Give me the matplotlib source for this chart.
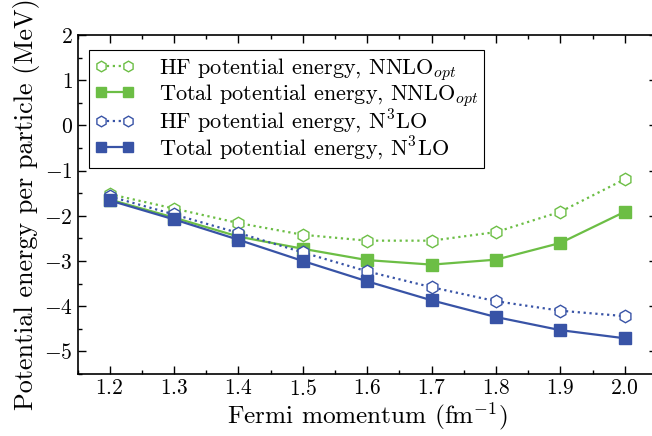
import numpy as np
import matplotlib
matplotlib.use("Agg")
import matplotlib.pyplot as plt
from matplotlib.ticker import MultipleLocator

plt.rcParams['font.family'] = 'serif'
plt.rcParams['font.serif'] = ['cmr10']
plt.rcParams['mathtext.fontset'] = 'cm'
plt.rcParams['axes.formatter.use_mathtext'] = True

# data
kf = [1.2, 1.3, 1.4, 1.5, 1.6, 1.7, 1.8, 1.9, 2.0]
hf_nnlo = [-1.52, -1.84, -2.16, -2.42, -2.55, -2.55, -2.36, -1.91, -1.19]
tot_nnlo = [-1.64, -2.04, -2.46, -2.73, -2.98, -3.08, -2.97, -2.60, -1.91]
hf_n3lo = [-1.57, -1.97, -2.38, -2.81, -3.23, -3.58, -3.89, -4.10, -4.22]
tot_n3lo = [-1.66, -2.08, -2.53, -3.00, -3.45, -3.87, -4.24, -4.53, -4.71]

green = '#6cbe45'
blue = '#3853a6'

fig = plt.figure(figsize=(6.52, 4.36), dpi=100)
ax = fig.add_axes([0.1189, 0.1422, 0.8888, 0.7775])

ax.plot(kf, hf_nnlo, ':', color=green, marker='h', mfc='white', mec=green,
        ms=9, mew=1.0, lw=1.6, label=r'HF potential energy, NNLO$_{opt}$')
ax.plot(kf, tot_nnlo, '-', color=green, marker='s', ms=9, lw=1.6,
        label=r'Total potential energy, NNLO$_{opt}$')
ax.plot(kf, hf_n3lo, ':', color=blue, marker='h', mfc='white', mec=blue,
        ms=9, mew=1.0, lw=1.6, label=r'HF potential energy, N$^3$LO')
ax.plot(kf, tot_n3lo, '-', color=blue, marker='s', ms=9, lw=1.6,
        label=r'Total potential energy, N$^3$LO')

ax.set_xlim(1.15, 2.05)
ax.set_ylim(-5.5, 2)
ax.xaxis.set_major_locator(MultipleLocator(0.1))
ax.xaxis.set_minor_locator(MultipleLocator(0.05))
ax.yaxis.set_major_locator(MultipleLocator(1))
ax.yaxis.set_minor_locator(MultipleLocator(0.5))
ax.tick_params(which='both', direction='in', top=True, right=True, labelsize=15.5)
ax.tick_params(which='major', length=6, width=1)
ax.tick_params(which='minor', length=3, width=1)
for s in ax.spines.values():
    s.set_linewidth(1.2)

ax.set_xlabel(r'Fermi momentum (fm$^{-1}$)', fontsize=18.2, labelpad=1)
ax.set_ylabel('Potential energy per particle (MeV)', fontsize=18.8, labelpad=3)

leg = ax.legend(loc='upper left', fontsize=16, frameon=True, fancybox=False,
                edgecolor='black', framealpha=1, handlelength=1.8, numpoints=2,
                borderpad=0.25, labelspacing=-0.05, handletextpad=1.1,
                borderaxespad=0.0, bbox_to_anchor=(0.02, 0.955), markerscale=0.85)
leg.get_frame().set_linewidth(0.8)

fig.savefig('out.png', dpi=100)
